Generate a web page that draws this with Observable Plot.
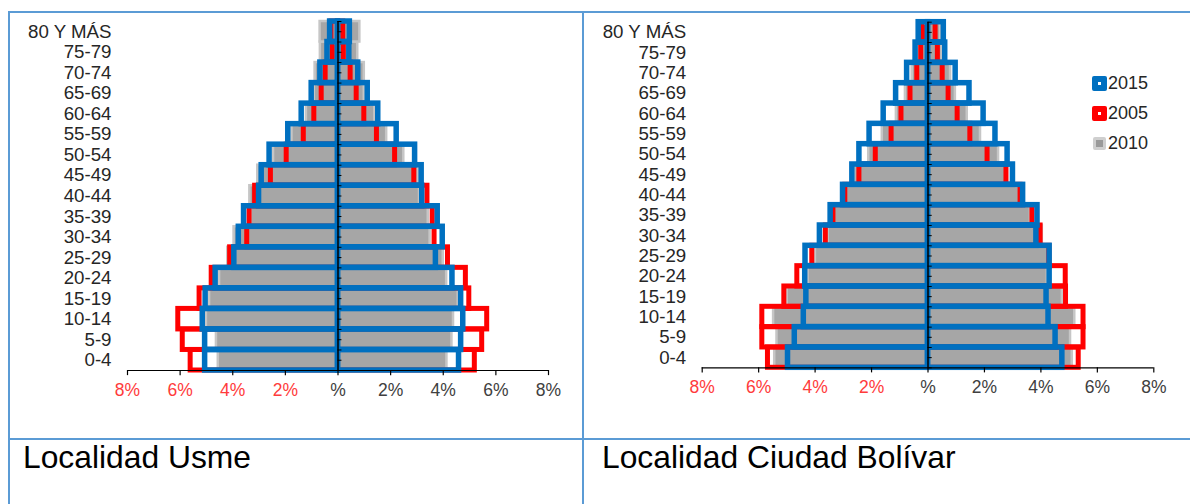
<!DOCTYPE html>
<html>
<head>
<meta charset="utf-8">
<script src="https://cdn.jsdelivr.net/npm/d3@7"></script>
<script src="https://cdn.jsdelivr.net/npm/@observablehq/plot@0.6"></script>
<style>
  html, body { margin: 0; padding: 0; background: #fff; }
  body { width: 1190px; height: 504px; position: relative; overflow: hidden; font-family: "Liberation Sans", Arial, sans-serif; }
  .ln { position: absolute; background: #5b9bd5; z-index: 5; }
  .cap { position: absolute; font-size: 31.8px; line-height: 31.8px; color: #000; white-space: nowrap; }
  .chart { position: absolute; top: 0; }
  .lg { position: absolute; font-size: 18px; line-height: 18px; color: #262626; }
  .mk { position: absolute; box-sizing: border-box; border-radius: 2px; }
</style>
</head>
<body>
<div id="left" class="chart" style="left:0px"></div>
<div id="right" class="chart" style="left:584px"></div>

<div class="ln" style="left:8px;top:11px;width:1182px;height:2px"></div>
<div class="ln" style="left:8px;top:438px;width:1182px;height:2px"></div>
<div class="ln" style="left:8px;top:11px;width:2px;height:493px"></div>
<div class="ln" style="left:582px;top:11px;width:2px;height:493px"></div>

<div class="cap" style="left:23px;top:442px">Localidad Usme</div>
<div class="cap" style="left:602px;top:442px">Localidad Ciudad Bolívar</div>

<div class="mk" style="left:1092px;top:76px;width:15px;height:15px;border:6px solid #0070c0;background:#fff"></div>
<div class="lg" style="left:1108px;top:74px">2015</div>
<div class="mk" style="left:1092px;top:106px;width:15px;height:15px;border:6px solid #ff0000;background:#fff"></div>
<div class="lg" style="left:1108px;top:104px">2005</div>
<div class="mk" style="left:1093px;top:137px;width:13px;height:13px;border:3px solid #cfcfcf;background:#9a9a9a"></div>
<div class="lg" style="left:1108px;top:134px">2010</div>

<script>
// Age groups, bottom (index 0) to top
const ages = ["0-4","5-9","10-14","15-19","20-24","25-29","30-34","35-39","40-44","45-49","50-54","55-59","60-64","65-69","70-74","75-79","80 Y MÁS"];

// X axis ticks (percent)
const xTicks = [-8, -6, -4, -2, 0, 2, 4, 6, 8];

// Localidad Usme (left side = men, right side = women), percent of population
const usmeLeft2005  = [5.6, 5.9, 6.07, 5.26, 4.8, 4.1, 3.45, 3.36, 3.15, 2.55, 1.95, 1.3, 0.9, 0.62, 0.47, 0.2, 0.25];
const usmeRight2005 = [5.2, 5.48, 5.67, 4.99, 4.86, 4.18, 3.67, 3.6, 3.4, 2.9, 2.17, 1.48, 1.0, 0.71, 0.48, 0.22, 0.2];
const usmeLeft2010  = [4.55, 4.62, 5.0, 4.88, 4.5, 4.19, 3.95, 3.3, 3.35, 3.05, 2.45, 1.75, 1.2, 0.9, 0.87, 0.67, 0.68];
const usmeRight2010 = [4.14, 4.33, 4.39, 4.57, 4.13, 4.0, 3.5, 3.43, 3.1, 3.05, 2.5, 1.85, 1.4, 1.0, 1.0, 0.75, 0.83];
const usmeLeft2015  = [5.05, 5.05, 5.14, 5.03, 4.65, 3.94, 3.77, 3.57, 3.0, 2.9, 2.6, 1.89, 1.38, 1.0, 0.67, 0.4, 0.3];
const usmeRight2015 = [4.6, 4.68, 4.76, 4.68, 4.35, 3.72, 3.98, 3.79, 3.2, 3.18, 2.93, 2.23, 1.53, 1.13, 0.77, 0.43, 0.45];

// Localidad Ciudad Bolívar
const cbLeft2005  = [5.67, 5.87, 5.87, 5.09, 4.63, 4.1, 3.62, 3.35, 2.93, 2.43, 1.85, 1.29, 0.94, 0.62, 0.38, 0.24, 0.18];
const cbRight2005 = [5.34, 5.51, 5.51, 4.89, 4.88, 4.3, 3.99, 3.7, 3.28, 2.78, 2.11, 1.5, 1.05, 0.73, 0.52, 0.35, 0.27];
const cbLeft2010  = [5.43, 5.35, 5.47, 4.99, 4.25, 3.99, 3.54, 3.32, 2.9, 2.6, 2.1, 1.62, 1.12, 0.8, 0.56, 0.35, 0.3];
const cbRight2010 = [5.11, 5.05, 5.2, 4.76, 4.23, 4.35, 4.05, 3.63, 3.25, 2.8, 2.5, 1.86, 1.39, 0.97, 0.8, 0.5, 0.45];
const cbLeft2015  = [4.96, 4.72, 4.4, 4.31, 4.35, 4.34, 3.83, 3.45, 3.01, 2.68, 2.43, 2.07, 1.57, 1.13, 0.74, 0.44, 0.33];
const cbRight2015 = [4.76, 4.52, 4.27, 4.2, 4.31, 4.31, 3.84, 3.88, 3.37, 3.01, 2.82, 2.39, 1.97, 1.47, 0.98, 0.61, 0.56];

function rows(left, right) {
  const out = [];
  ages.forEach((a, i) => {
    out.push({age: a, i, v: -left[i]});
    out.push({age: a, i, v: right[i]});
  });
  return out;
}

function pyramid(opts) {
  const fmt = d => d === 0 ? "%" : Math.abs(d) + "%";
  const halfSteps = d3.range(0, ages.length + 0.01, 0.5);
  return Plot.plot({
    width: opts.width,
    height: opts.height,
    marginLeft: opts.marginLeft,
    marginRight: opts.marginRight,
    marginTop: opts.marginTop,
    marginBottom: opts.marginBottom,
    x: {domain: [-8, 8], axis: null},
    y: {domain: [0, ages.length], axis: null},
    style: {background: "transparent", overflow: "visible", fontFamily: "'Liberation Sans', Arial, sans-serif"},
    marks: [
      Plot.rect(rows(opts.l2010, opts.r2010), {x1: 0, x2: "v", y1: "i", y2: d => d.i + 1,
        fill: "#a6a6a6", stroke: "#c6c6c6", strokeWidth: 2.5}),
      Plot.rect(rows(opts.l2005, opts.r2005), {x1: 0, x2: "v", y1: "i", y2: d => d.i + 1,
        fill: "none", stroke: "#ff0000", strokeWidth: 5}),
      Plot.rect(rows(opts.l2015, opts.r2015), {x1: 0, x2: "v", y1: "i", y2: d => d.i + 1,
        fill: "none", stroke: "#0070c0", strokeWidth: 5.5}),
      Plot.ruleX([0], {y1: 0, y2: ages.length, stroke: "#000", strokeWidth: 1.5}),
      Plot.ruleY(halfSteps, {x1: 0, x2: 0.15, stroke: "#000", strokeWidth: 1}),
      Plot.ruleY([0], {x1: -8, x2: 8, stroke: "#000", strokeWidth: 1.2}),
      Plot.ruleX(xTicks, {y1: 0, y2: -0.25, stroke: "#000", strokeWidth: 1.2}),
      Plot.text(xTicks.filter(d => d < 0), {x: d => d, y: 0, dy: 20, text: fmt, fill: "#ff3b3b", fontSize: 17.5}),
      Plot.text(xTicks.filter(d => d >= 0), {x: d => d, y: 0, dy: 20, text: fmt, fill: "#404040", fontSize: 17.5}),
      Plot.text(ages, {x: -8, y: (d, i) => i + 0.5, text: d => d, textAnchor: "end", dx: -16, fill: "#262626", fontSize: 18.7})
    ]
  });
}

document.getElementById("left").appendChild(pyramid({
  width: 584, height: 420, marginLeft: 127, marginRight: 36, marginTop: 21, marginBottom: 50,
  l2005: usmeLeft2005, r2005: usmeRight2005, l2010: usmeLeft2010, r2010: usmeRight2010,
  l2015: usmeLeft2015, r2015: usmeRight2015
}));

document.getElementById("right").appendChild(pyramid({
  width: 606, height: 420, marginLeft: 117.7, marginRight: 36.7, marginTop: 21.7, marginBottom: 52.7,
  l2005: cbLeft2005, r2005: cbRight2005, l2010: cbLeft2010, r2010: cbRight2010,
  l2015: cbLeft2015, r2015: cbRight2015
}));
</script>
</body>
</html>
